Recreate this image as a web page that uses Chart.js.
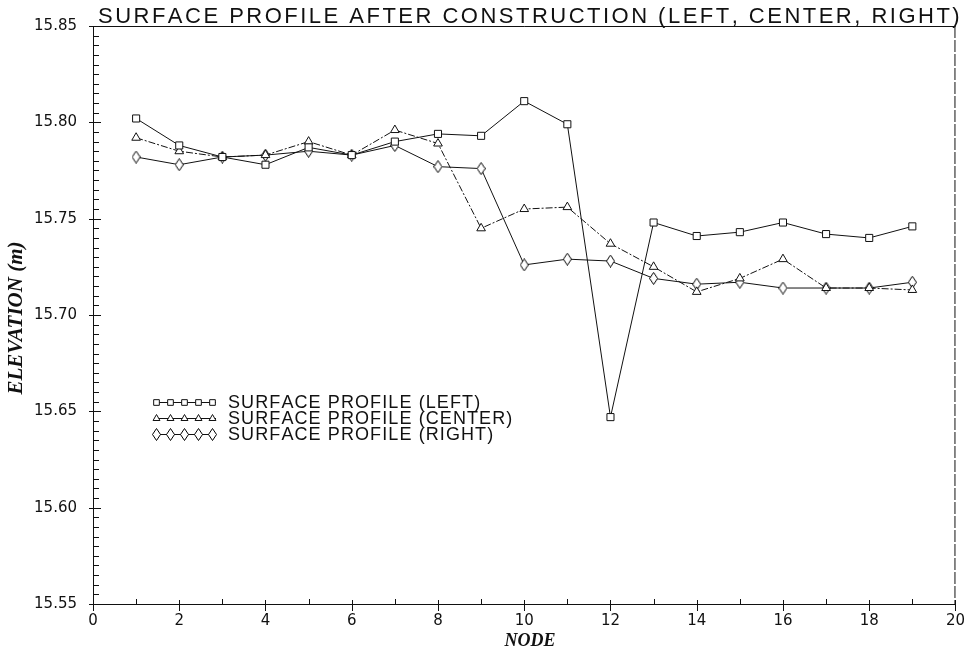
<!DOCTYPE html>
<html>
<head>
<meta charset="utf-8">
<script src="https://cdn.jsdelivr.net/npm/chart.js@4.4.1/dist/chart.umd.min.js"></script>
<style>
  html, body { margin: 0; padding: 0; background: #fff; }
  #wrap { width: 973px; height: 655px; position: relative; }
</style>
</head>
<body>
<div id="wrap"><canvas id="chart" width="973" height="655"></canvas></div>
<script>
'use strict';

// Data (elevation in m per node)
const NODES = [1, 2, 3, 4, 5, 6, 7, 8, 9, 10, 11, 12, 13, 14, 15, 16, 17, 18, 19];
const LEFT = [15.802, 15.788, 15.782, 15.778, 15.787, 15.783, 15.790, 15.794, 15.793,
              15.811, 15.799, 15.647, 15.748, 15.741, 15.743, 15.748, 15.742, 15.740, 15.746];
const CENTER = [15.792, 15.785, 15.782, 15.783, 15.790, 15.783, 15.796, 15.789, 15.745,
                15.755, 15.756, 15.737, 15.725, 15.712, 15.719, 15.729, 15.714, 15.714, 15.713];
const RIGHT = [15.782, 15.778, 15.782, 15.783, 15.785, 15.783, 15.788, 15.777, 15.776,
               15.726, 15.729, 15.728, 15.719, 15.716, 15.717, 15.714, 15.714, 15.714, 15.717];
const LABELS = ['SURFACE PROFILE (LEFT)', 'SURFACE PROFILE (CENTER)', 'SURFACE PROFILE (RIGHT)'];
const TITLE = 'SURFACE PROFILE AFTER CONSTRUCTION (LEFT, CENTER, RIGHT)';

const INK = '#111';

// tall narrow diamond marker
function makeDiamond() {
  const c = document.createElement('canvas');
  c.width = 9; c.height = 13;
  const g = c.getContext('2d');
  g.fillStyle = '#fff';
  g.strokeStyle = '#000';
  g.lineWidth = 1;
  g.beginPath();
  g.moveTo(4.5, 0.5); g.lineTo(8.5, 6.5); g.lineTo(4.5, 12.5); g.lineTo(0.5, 6.5);
  g.closePath();
  g.fill(); g.stroke();
  return c;
}
const diamond = makeDiamond();

const pts = arr => arr.map((v, i) => ({ x: NODES[i], y: v }));

// draw text with extra space between letters
function spacedText(ctx, text, x, y, gap) {
  for (const ch of text) {
    ctx.fillText(ch, x, y);
    x += ctx.measureText(ch).width + gap;
  }
}

// ---------------------------------------------------------------------------
// Plugins: frame, inward ticks, title, axis titles, legend
// ---------------------------------------------------------------------------
const decor = {
  id: 'decor',
  afterDraw(chart) {
    const { ctx, chartArea: a, scales: { x, y } } = chart;
    ctx.save();
    ctx.strokeStyle = INK;
    ctx.lineWidth = 1;

    // top + right frame
    ctx.beginPath();
    ctx.moveTo(a.left, a.top + 0.5); ctx.lineTo(a.right, a.top + 0.5);
    ctx.stroke();
    ctx.setLineDash([12, 2]);
    ctx.beginPath();
    ctx.moveTo(a.right - 0.5, a.top); ctx.lineTo(a.right - 0.5, a.bottom);
    ctx.stroke();
    ctx.setLineDash([]);

    // y ticks, minor every 0.005
    ctx.beginPath();
    for (let i = 0; i <= 60; i++) {
      const py = Math.round(y.getPixelForValue(15.55 + i * 0.005)) + 0.5;
      const major = i % 10 === 0;
      ctx.moveTo(a.left - (major ? 4 : 0), py);
      ctx.lineTo(a.left + (major ? 8 : 6), py);
    }
    // x ticks, minor at odd nodes
    for (let n = 0; n <= 20; n++) {
      const px = Math.round(x.getPixelForValue(n)) + 0.5;
      const major = n % 2 === 0;
      ctx.moveTo(px, a.bottom + (major ? 7 : 0));
      ctx.lineTo(px, a.bottom - (major ? 4 : 5));
    }
    ctx.stroke();

    // title, stretched across the frame
    ctx.fillStyle = INK;
    ctx.font = '22px "Liberation Sans"';
    ctx.textBaseline = 'alphabetic';
    ctx.textAlign = 'left';
    const w = ctx.measureText(TITLE).width;
    spacedText(ctx, TITLE, 98, 23, (858 - w) / (TITLE.length - 1));

    // axis titles
    ctx.font = 'italic bold 18px "Liberation Serif"';
    ctx.textAlign = 'center';
    ctx.textBaseline = 'middle';
    ctx.fillText('NODE', 530, 641);
    ctx.save();
    ctx.translate(17, 318);
    ctx.rotate(-Math.PI / 2);
    ctx.font = 'italic bold 21px "Liberation Serif"';
    ctx.fillText('ELEVATION (m)', 0, 0);
    ctx.restore();

    // legend: line with five markers + label
    const rows = [402, 418, 434];
    ctx.font = '18px "Liberation Sans"';
    ctx.textAlign = 'left';
    chart.data.datasets.forEach((ds, k) => {
      const ry = rows[k];
      ctx.strokeStyle = INK;
      ctx.beginPath();
      ctx.moveTo(154, ry + 0.5); ctx.lineTo(216, ry + 0.5);
      ctx.stroke();
      for (let i = 0; i < 5; i++) {
        ctx.fillStyle = '#fff';
        ctx.strokeStyle = INK;
        Chart.helpers.drawPoint(ctx, {
          pointStyle: ds.pointStyle, radius: 4, rotation: 0, borderWidth: 1
        }, 156.5 + i * 14, ry + 0.5);
      }
      ctx.fillStyle = INK;
      spacedText(ctx, LABELS[k], 228, ry + 1, 1.1);
    });
    ctx.restore();
  }
};

function series(label, data, style, radius, dash) {
  return {
    label, data: pts(data),
    borderColor: INK, backgroundColor: '#fff', borderWidth: 1,
    borderDash: dash,
    pointStyle: style, pointRadius: radius, pointHoverRadius: radius,
    pointBorderColor: INK, pointBackgroundColor: '#fff', pointBorderWidth: 1,
    tension: 0, fill: false,
  };
}

new Chart(document.getElementById('chart'), {
  type: 'line',
  data: {
    datasets: [
      series(LABELS[0], LEFT, 'rect', 5, []),
      series(LABELS[1], CENTER, 'triangle', 5, [7, 2, 2, 2]),
      series(LABELS[2], RIGHT, diamond, 6, []),
    ],
  },
  options: {
    responsive: false,
    animation: false,
    events: [],
    layout: { padding: { top: 26, right: 13, left: 0, bottom: 0 } },
    plugins: { legend: { display: false }, title: { display: false }, tooltip: { enabled: false } },
    scales: {
      x: {
        type: 'linear', min: 0, max: 20,
        afterFit: s => { s.height = 51; },
        border: { display: true, color: INK, width: 1 },
        grid: { display: false, drawTicks: false },
        ticks: { stepSize: 2, padding: 8, color: INK, font: { family: 'DejaVu Sans', size: 15 } },
      },
      y: {
        type: 'linear', min: 15.55, max: 15.85,
        afterFit: s => { s.width = 93; },
        border: { display: true, color: INK, width: 1 },
        grid: { display: false, drawTicks: false },
        ticks: {
          stepSize: 0.05, padding: 16, color: INK,
          font: { family: 'DejaVu Sans', size: 15 },
          callback: v => v.toFixed(2),
        },
      },
    },
  },
  plugins: [decor],
});
</script>
</body>
</html>
